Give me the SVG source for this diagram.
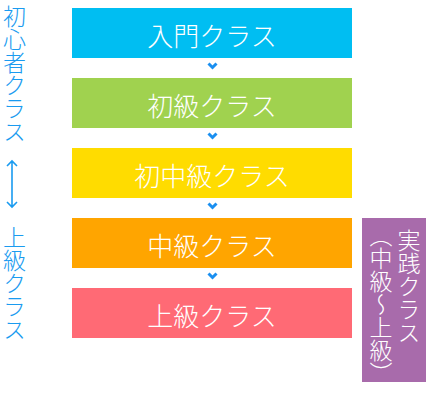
<svg xmlns="http://www.w3.org/2000/svg" width="428" height="410" viewBox="0 0 428 410">
<style>
.box text{font-family:"Noto Sans CJK JP","Noto Sans",sans-serif;font-size:26px;font-weight:300;fill:#fff;text-anchor:middle;dominant-baseline:central}
.vt{font-family:"Noto Sans CJK JP","Noto Sans",sans-serif;font-size:23px;font-weight:300;writing-mode:vertical-rl}
.side{fill:#1a9bf0}
.chev{fill:none;stroke:#1a8ff0;stroke-width:3;stroke-linecap:butt;stroke-linejoin:miter}
</style>
<rect width="428" height="410" fill="#fff"/>
<g id="side-label">
<text class="vt side" x="14.5" y="5">初心者クラス</text>
<path d="M12,161 V207 M7,166 L12,161 L17,166 M7,202 L12,207 L17,202" fill="none" stroke="#1a9bf0" stroke-width="1.6"/>
<text class="vt side" x="14.5" y="226">上級クラス</text>
</g>
<g id="n1" class="box"><rect x="72" y="8" width="280" height="50" fill="#00bef2"/><text x="212" y="34">入門クラス</text></g>
<g id="n2" class="box"><rect x="72" y="78" width="280" height="50" fill="#a0d24f"/><text x="212" y="104">初級クラス</text></g>
<g id="n3" class="box"><rect x="72" y="148" width="280" height="50" fill="#ffdc00"/><text x="212" y="174">初中級クラス</text></g>
<g id="n4" class="box"><rect x="72" y="218" width="280" height="50" fill="#ffa500"/><text x="212" y="244">中級クラス</text></g>
<g id="n5" class="box"><rect x="72" y="288" width="280" height="50" fill="#ff6a75"/><text x="212" y="314">上級クラス</text></g>
<g id="n6"><rect x="362" y="218" width="64" height="164" fill="#a86bab"/>
<text class="vt" x="409" y="229" fill="#fff">実践クラス</text>
<text class="vt" x="381" y="224" fill="#fff">（中級～上級）</text>
</g>
<g id="connectors">
<path class="chev" d="M208.5,63.5 L212.5,67.5 L216.5,63.5"/>
<path class="chev" d="M208.5,133.5 L212.5,137.5 L216.5,133.5"/>
<path class="chev" d="M208.5,203.5 L212.5,207.5 L216.5,203.5"/>
<path class="chev" d="M208.5,273.5 L212.5,277.5 L216.5,273.5"/>
</g>
</svg>
